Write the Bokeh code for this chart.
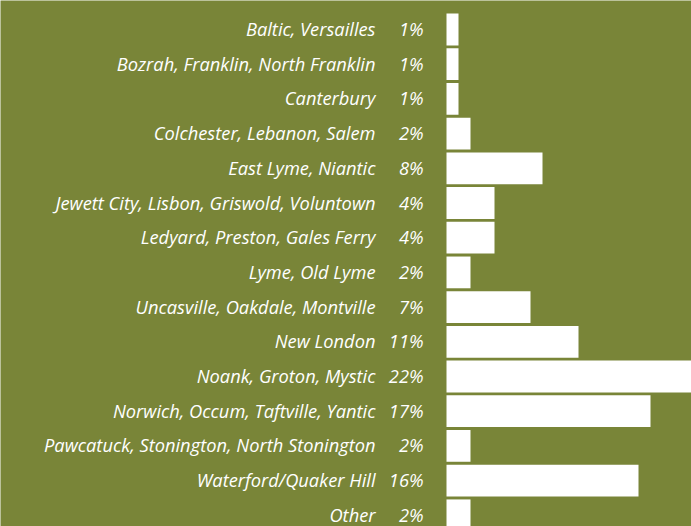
from bokeh.plotting import figure
from bokeh.models import Range1d, ColumnDataSource
from bokeh.embed import file_html
from bokeh.resources import INLINE
from bokeh.core.properties import value

towns = [
    "Baltic, Versailles",
    "Bozrah, Franklin, North Franklin",
    "Canterbury",
    "Colchester, Lebanon, Salem",
    "East Lyme, Niantic",
    "Jewett City, Lisbon, Griswold, Voluntown",
    "Ledyard, Preston, Gales Ferry",
    "Lyme, Old Lyme",
    "Uncasville, Oakdale, Montville",
    "New London",
    "Noank, Groton, Mystic",
    "Norwich, Occum, Taftville, Yantic",
    "Pawcatuck, Stonington, North Stonington",
    "Waterford/Quaker Hill",
    "Other",
]
shares = [1, 1, 1, 2, 8, 4, 4, 2, 7, 11, 22, 17, 2, 16, 2]

BG = "#798538"
rows = list(range(len(towns)))
src = ColumnDataSource(dict(
    y=rows,
    town=towns,
    share=shares,
    pct=[f"{s}%" for s in shares],
))

pitch = 34.7
p = figure(
    width=691, height=526,
    x_range=Range1d(-446 / 12, 245 / 12),
    y_range=Range1d((526 - 29) / pitch, -29 / pitch),
    output_backend="svg", toolbar_location=None,
    x_axis_location=None, y_axis_location=None,
    min_border=0,
)
p.background_fill_color = BG
p.border_fill_color = BG
p.outline_line_color = None
p.xgrid.visible = False
p.ygrid.visible = False

p.hbar(y="y", left=0, right="share", height=0.915, source=src,
       fill_color="white", line_color=None)

common = dict(text_align="right", text_baseline="middle",
              text_font=value("Open Sans"), text_font_style="italic",
              text_font_size="18.3px", text_color="white")
p.text(x=0, y="y", text="town", x_offset=-71, y_offset=-1, source=src, **common)
p.text(x=0, y="y", text="pct", x_offset=-23, y_offset=-1, source=src, **common)

open("out.html", "w").write(file_html(p, INLINE))
